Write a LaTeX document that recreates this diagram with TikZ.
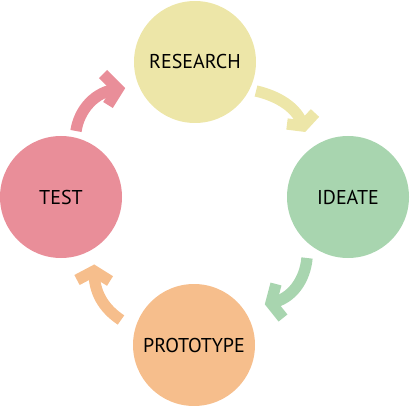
\documentclass[tikz,border=0pt]{standalone}
\usepackage{fontspec}
\setmainfont{PT Sans}

\definecolor{researchcol}{RGB}{237,230,168}
\definecolor{ideatecol}{RGB}{168,213,175}
\definecolor{prototypecol}{RGB}{246,190,140}
\definecolor{testcol}{RGB}{233,142,153}

\tikzset{
    phase/.style={circle, minimum size=91.5pt, inner sep=0pt,
        font=\fontsize{15pt}{17pt}\selectfont},
    flow/.style={line width=8.5pt},
    head/.style={line width=8.5pt, line join=miter, miter limit=4}
}

\begin{document}
\begin{tikzpicture}[x=0.75pt, y=-0.75pt]

\useasboundingbox (0,0) rectangle (410,406);

% ========== 四个阶段 ==========
\node[phase, fill=researchcol]  (research)  at (195,62)  {RESEARCH};
\node[phase, fill=ideatecol]    (ideate)    at (348,197) {IDEATE};
\node[phase, fill=prototypecol] (prototype) at (194,345) {PROTOTYPE};
\node[phase, fill=testcol]      (test)      at (61,197)  {TEST};

% ========== 箭头端点 ==========
% test -> research
\coordinate (t1) at (76,131);  \coordinate (h1) at (118,89);
\coordinate (l1) at (103,74);  \coordinate (r1) at (108,105);
% research -> ideate
\coordinate (t2) at (256,91);  \coordinate (h2) at (303,126);
\coordinate (l2) at (287,124); \coordinate (r2) at (315,113);
% ideate -> prototype
\coordinate (t3) at (307,258); \coordinate (h3) at (271,303);
\coordinate (l3) at (276,284); \coordinate (r3) at (283,318);
% prototype -> test
\coordinate (t4) at (121,320); \coordinate (h4) at (94,271);
\coordinate (l4) at (77,280);  \coordinate (r4) at (110,281);

% 弯曲箭头：箭杆
\draw[flow, testcol]      (t1) .. controls (79,110) and (95,91) .. (h1);
\draw[flow, researchcol]  (t2) .. controls (278,96) and (298,108) .. (h2);
\draw[flow, ideatecol]    (t3) .. controls (305,280) and (292,299) .. (h3);
\draw[flow, prototypecol] (t4) .. controls (103,308) and (94,292) .. (h4);

% 箭头头部
\draw[head, testcol]      (l1) -- (h1) -- (r1);
\draw[head, researchcol]  (l2) -- (h2) -- (r2);
\draw[head, ideatecol]    (l3) -- (h3) -- (r3);
\draw[head, prototypecol] (l4) -- (h4) -- (r4);

\end{tikzpicture}
\end{document}
